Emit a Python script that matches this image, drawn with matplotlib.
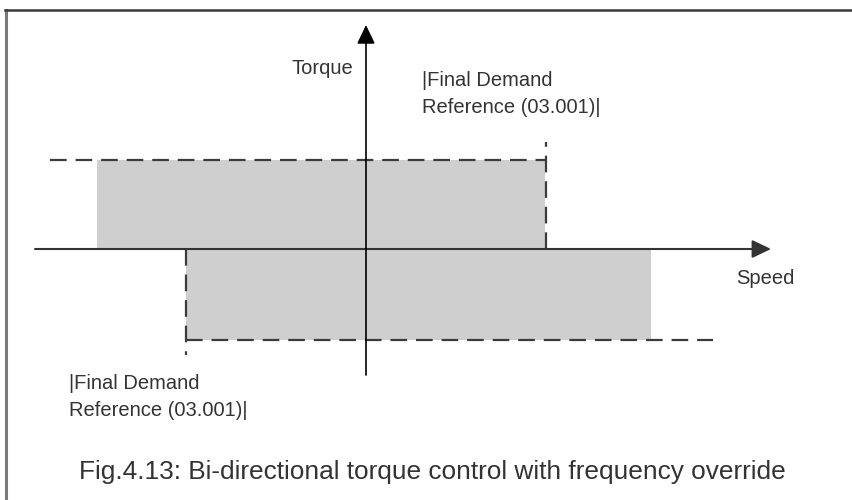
import matplotlib
matplotlib.use("Agg")
import matplotlib.pyplot as plt
from matplotlib.lines import Line2D

# diagram values (speed on x, torque on y, origin at the axes crossing)
torque_limits = [89, -91]                 # upper / lower torque limit
fill_speed_ranges = [(-269, 179), (-180, 285)]
dash_speed_ranges = [(-316, 180), (-180, 347)]
ref_speeds = [180, -180]                  # |Final Demand Reference (03.001)|
ref_marker_ends = [107, -106]
speed_axis = (-331, 405)
torque_axis = (-126, 224)

ref_label = "|Final Demand\nReference (03.001)|"
caption = "Fig.4.13: Bi-directional torque control with frequency override"

plt.rcParams['font.family'] = ['Liberation Sans', 'DejaVu Sans']
text_color = "#333333"
dash_color = "#3c3c3c"

fig = plt.figure(figsize=(8.52, 5.0), dpi=100)
ax = fig.add_axes([0, 0, 1, 1])
ax.set_xlim(-366, 486)
ax.set_ylim(-251, 249)
ax.axis("off")

# frame around the figure
fig.add_artist(Line2D([6 / 852, 6 / 852], [0, 490 / 500], transform=fig.transFigure,
                      color="#7a7a7a", lw=2.2))
fig.add_artist(Line2D([5 / 852, 1], [490 / 500, 490 / 500], transform=fig.transFigure,
                      color="#3a3a3a", lw=1.8))

# grey operating regions
for (s0, s1), t in zip(fill_speed_ranges, torque_limits):
    ax.fill_between([s0, s1], [0, 0], [t, t], color="#cfcfcf", lw=0, zorder=1)

# dashed limits
dash = (0, (7.5, 4))
for (s0, s1), t in zip(dash_speed_ranges, torque_limits):
    ax.plot([s0, s1], [t, t], color=dash_color, lw=1.6, ls=dash, zorder=2)
for s, t_end in zip(ref_speeds, ref_marker_ends):
    ax.plot([s, s], [0, t_end], color=dash_color, lw=1.6, ls=dash, zorder=2)

# axes with arrow heads
arrow = dict(arrowstyle="-|>,head_length=1.15,head_width=0.55", mutation_scale=10,
             shrinkA=0, shrinkB=0)
ax.annotate("", xy=(speed_axis[1], 0), xytext=(speed_axis[0], 0),
            arrowprops=dict(arrow, color="#333333", lw=1.5), zorder=3)
ax.annotate("", xy=(0, torque_axis[1]), xytext=(0, torque_axis[0]),
            arrowprops=dict(arrow, color="black", lw=1.2), zorder=3)

# labels
ax.text(-13, 181, "Torque", ha="right", va="center", fontsize=14.5, color=text_color)
ax.text(370, -29, "Speed", ha="left", va="center", fontsize=14.5, color=text_color)
ax.text(56, 155, ref_label, ha="left", va="center", fontsize=14.5,
        linespacing=1.55, color=text_color)
ax.text(-297, -148, ref_label, ha="left", va="center", fontsize=14.5,
        linespacing=1.55, color=text_color)
ax.text(-287, -223, caption, ha="left", va="center", fontsize=18.9, color=text_color)

fig.savefig("out.png", dpi=100)
